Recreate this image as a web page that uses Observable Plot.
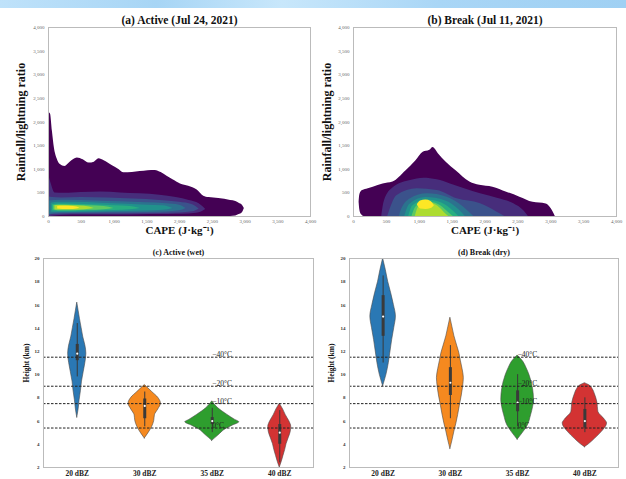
<!DOCTYPE html>
<html><head><meta charset="utf-8">
<script src="https://cdn.jsdelivr.net/npm/d3@7"></script>
<script src="https://cdn.jsdelivr.net/npm/@observablehq/plot@0.6"></script>
<style>
body{margin:0;background:#fff}
#wrap{position:relative;width:626px;height:479px;overflow:hidden;background:#fff;font-family:"Liberation Serif",serif}
#band{position:absolute;left:0;top:0;width:626px;height:8px;background:linear-gradient(90deg,#bfe2fa 0%,#a7d5f5 25%,#c8e7fb 45%,#a9d6f6 70%,#9fd0f3 100%)}
.panel{position:absolute}
.panel svg{overflow:visible}
.dbz [aria-label^="x-axis"] text{font-size:7.5px;font-weight:bold;fill:#222}
.dbz [aria-label^="y-axis"] text{font-size:5px;font-weight:bold;fill:#333}
.cape [aria-label^="x-axis"] text,.cape [aria-label^="y-axis"] text{font-size:5px;fill:#666}
</style></head>
<body>
<div id="wrap"><div id="band"></div></div>
<script>
// ---------- shared ticks / labels ----------
const capeTicks = [0, 500, 1000, 1500, 2000, 2500, 3000, 3500, 4000];
const ratioTicks = [0, 500, 1000, 1500, 2000, 2500, 3000, 3500, 4000];
const dbzCats = ["20 dBZ", "30 dBZ", "35 dBZ", "40 dBZ"];
const dbzColors = ["#2a78b4", "#f5891f", "#2e9e2e", "#d33333"];
const heightTicks = [2, 4, 6, 8, 10, 12, 14, 16, 18, 20];
const isoHeights = [11.5, 9, 7.5, 5.4];
const isoLabels = ["\u221240\u00b0C", "\u221220\u00b0C", "\u221210\u00b0C", "0\u00b0C"];

// ---------- (a) Active density contours: level x, lower, upper ----------
const activeX = [
  [0, 30, 60, 90, 130, 180, 250, 330, 440, 530, 620, 700, 770, 850, 970, 1080, 1150, 1280, 1400, 1520, 1630, 1720, 1810, 1900, 2015, 2140, 2270, 2370, 2450, 2600, 2780, 2860, 2910, 2960, 2990],
  [0, 40, 100, 250, 500, 800, 1100, 1400, 1700, 1950, 2150, 2300, 2400],
  [0, 60, 200, 500, 900, 1300, 1700, 2000, 2200, 2300],
  [10, 100, 300, 700, 1100, 1500, 1800, 2000, 2100],
  [40, 150, 400, 800, 1200, 1500, 1750, 1900],
  [60, 150, 400, 700, 1000, 1250, 1400],
  [80, 150, 350, 600, 850, 1000],
  [100, 170, 350, 550, 700],
  [140, 220, 380, 480]
];
const activeLo = [
  [0, 0, 0, 0, 0, 0, 0, 0, 0, 0, 0, 0, 0, 0, 0, 0, 0, 0, 0, 0, 0, 0, 0, 0, 0, 0, 0, 0, 0, 0, 0, 10, 40, 80, 170],
  [0, 0, 10, 25, 30, 30, 30, 35, 40, 45, 55, 80, 150],
  [10, 40, 50, 55, 55, 60, 65, 75, 100, 160],
  [40, 65, 70, 75, 80, 85, 95, 120, 170],
  [90, 85, 85, 95, 105, 115, 130, 170],
  [120, 105, 105, 115, 125, 145, 170],
  [135, 120, 120, 130, 145, 170],
  [145, 135, 135, 145, 170],
  [160, 150, 150, 175]
];
const activeHi = [
  [2200, 2170, 1800, 1450, 1230, 1100, 1060, 1150, 1240, 1200, 1130, 1150, 1220, 1180, 1080, 990, 925, 930, 950, 970, 975, 930, 850, 780, 690, 640, 560, 430, 400, 380, 340, 320, 280, 240, 170],
  [900, 700, 500, 490, 510, 520, 500, 480, 450, 400, 340, 270, 150],
  [420, 400, 390, 400, 390, 370, 340, 300, 250, 160],
  [330, 340, 345, 330, 310, 290, 270, 240, 170],
  [280, 300, 300, 280, 260, 240, 225, 170],
  [250, 265, 260, 245, 230, 210, 170],
  [235, 245, 240, 225, 210, 170],
  [225, 232, 230, 215, 170],
  [210, 215, 210, 175]
];

// ---------- (b) Break density contours ----------
const breakX = [
  [85, 95, 120, 160, 200, 300, 450, 600, 800, 950, 1060, 1160, 1210, 1290, 1410, 1560, 1770, 1920, 2120, 2330, 2530, 2730, 2930, 3010, 3050, 3070],
  [430, 470, 613, 867, 1069, 1273, 1475, 1700, 1932, 2200, 2438, 2590, 2660],
  [520, 664, 968, 1273, 1576, 1932, 2185, 2300],
  [700, 715, 867, 1120, 1424, 1677, 1830],
  [780, 850, 1100, 1400, 1600, 1700],
  [840, 900, 1100, 1350, 1520, 1600],
  [890, 950, 1100, 1300, 1450, 1520],
  [940, 990, 1120, 1280, 1400, 1450],
  [970, 1020, 1100, 1180, 1230]
];
const breakLo = [
  [300, 150, 40, 0, 0, 0, 0, 0, 0, 0, 0, 0, 0, 0, 0, 0, 0, 0, 0, 0, 0, 0, 0, 0, 0, 0],
  [0, 0, 0, 0, 0, 0, 0, 0, 0, 0, 0, 0, 0],
  [0, 0, 0, 0, 0, 0, 0, 0],
  [0, 0, 0, 0, 0, 0, 0],
  [0, 0, 0, 0, 0, 0],
  [0, 0, 0, 0, 0, 0],
  [0, 0, 0, 0, 0, 0],
  [0, 0, 0, 0, 0, 0],
  [250, 160, 150, 170, 230]
];
const breakHi = [
  [300, 450, 530, 560, 575, 620, 690, 730, 970, 1180, 1360, 1400, 1460, 1330, 1150, 970, 730, 660, 620, 515, 410, 300, 265, 160, 60, 0],
  [0, 330, 620, 762, 811, 776, 690, 580, 480, 380, 268, 120, 0],
  [0, 444, 585, 550, 374, 268, 91, 0],
  [0, 91, 374, 480, 409, 197, 0],
  [0, 250, 400, 330, 150, 0],
  [0, 220, 350, 280, 110, 0],
  [0, 200, 310, 250, 80, 0],
  [0, 200, 300, 220, 60, 0],
  [250, 330, 350, 320, 230]
];

// ---------- (c) Active (wet) violins: heights and half-widths ----------
const wetH = [
  [6.3, 7.0, 7.8, 8.6, 9.4, 10.2, 11.0, 11.8, 12.5, 13.2, 14.0, 14.8, 15.5, 16.2],
  [4.5, 5.0, 5.5, 6.0, 6.5, 7.0, 7.5, 8.0, 8.5, 9.1],
  [4.3, 4.75, 5.3, 5.6, 5.9, 6.1, 6.55, 7.1, 7.7],
  [2.0, 2.5, 3.0, 3.5, 4.0, 4.5, 5.0, 5.5, 6.0, 6.5, 7.0, 7.5]
];
const wetW = [
  [0, 0.02, 0.035, 0.055, 0.07, 0.095, 0.12, 0.135, 0.12, 0.09, 0.065, 0.04, 0.02, 0],
  [0, 0.06, 0.11, 0.14, 0.15, 0.2, 0.24, 0.2, 0.11, 0],
  [0, 0.09, 0.2, 0.3, 0.4, 0.34, 0.22, 0.09, 0],
  [0, 0.03, 0.055, 0.08, 0.1, 0.13, 0.16, 0.17, 0.14, 0.09, 0.05, 0]
];
const wetBox = { lo: [9.8, 5.5, 5.0, 2.4], q1: [11.2, 6.2, 5.7, 4.0], med: [11.8, 7.3, 6.0, 5.0], q3: [12.6, 7.9, 6.3, 5.7], hi: [14.4, 8.5, 7.1, 6.9] };

// ---------- (d) Break (dry) violins ----------
const dryH = [
  [9.0, 10.0, 11.0, 12.0, 13.0, 14.0, 15.0, 16.0, 17.0, 18.0, 19.0, 20.0],
  [3.6, 4.3, 5.1, 5.8, 6.5, 7.3, 8.2, 9.0, 9.7, 10.5, 11.2, 11.8, 12.5, 13.3, 14.1, 14.9],
  [4.4, 5.05, 5.6, 6.5, 7.2, 7.8, 8.75, 9.9, 10.6, 11.1, 11.65],
  [3.75, 4.0, 4.47, 5.05, 5.8, 6.1, 6.8, 7.6, 8.3, 8.75, 9.1, 9.26]
];
const dryW = [
  [0, 0.05, 0.085, 0.11, 0.135, 0.165, 0.19, 0.16, 0.12, 0.075, 0.04, 0],
  [0, 0.03, 0.06, 0.09, 0.115, 0.14, 0.17, 0.19, 0.2, 0.18, 0.155, 0.135, 0.1, 0.06, 0.03, 0],
  [0, 0.087, 0.15, 0.2, 0.23, 0.243, 0.23, 0.18, 0.13, 0.085, 0],
  [0, 0.06, 0.15, 0.25, 0.33, 0.3, 0.2, 0.186, 0.15, 0.116, 0.06, 0]
];
const dryBox = { lo: [11.0, 6.2, 5.5, 5.0], q1: [13.3, 8.2, 6.8, 5.4], med: [15.0, 9.3, 7.6, 6.0], q3: [16.8, 10.6, 8.6, 7.0], hi: [18.5, 12.5, 10.0, 8.0] };

// ---------- builders ----------
const font = "Liberation Serif, Times New Roman, serif";
const wrap = document.getElementById("wrap");
function place(svg, left, top) {
  const d = document.createElement("div");
  d.className = "panel";
  d.style.left = left + "px"; d.style.top = top + "px";
  d.appendChild(svg); wrap.appendChild(d);
}

function densityPanel(title, xs, los, his, opt) {
  const rows = xs.flatMap((xl, li) => xl.map((x, j) => ({level: li, x, lo: los[li][j], hi: his[li][j]})));
  return Plot.plot({
    className: "cape",
    width: opt.width, height: 240,
    marginLeft: opt.ml, marginRight: opt.mr, marginTop: 27, marginBottom: 24,
    style: {background: "transparent", fontFamily: font, overflow: "visible"},
    x: {domain: [0, 4000], ticks: capeTicks, tickFormat: d3.format(","), tickSize: 0, tickPadding: 3, label: null},
    y: {domain: [0, 4000], ticks: ratioTicks, tickFormat: d3.format(","), tickSize: 0, tickPadding: 4, label: null},
    color: {type: "linear", scheme: "viridis", domain: [0, 8]},
    marks: [
      Plot.areaY(rows, {x: "x", y1: "lo", y2: "hi", z: "level", fill: "level", curve: "monotone-x"}),
      Plot.frame({stroke: "#bbb"}),
      Plot.text([title], {frameAnchor: "top", lineAnchor: "middle", textAnchor: "middle", dy: -7, fontSize: 11.5, fontWeight: "bold", fill: "#111"}),
      Plot.text(["CAPE (J\u00b7kg\u207b\u00b9)"], {frameAnchor: "bottom", lineAnchor: "middle", textAnchor: "middle", dy: 14, fontSize: 11, fontWeight: "bold", fill: "#111"}),
      Plot.text(["Rainfall/lightning ratio"], {frameAnchor: "left", lineAnchor: "middle", textAnchor: "middle", dx: opt.ylx, rotate: -90, fontSize: 12, fontWeight: "bold", fill: "#111"})
    ]
  });
}

function violinPanel(title, H, W, box, opt) {
  const rows = dbzCats.flatMap((c, i) => H[i].map((h, j) => ({i: i + 1, cat: c, h, w: W[i][j]})));
  return Plot.plot({
    className: "dbz",
    width: opt.width, height: 239,
    marginLeft: opt.ml, marginRight: opt.mr, marginTop: 18, marginBottom: 12,
    style: {background: "transparent", fontFamily: font, overflow: "visible"},
    x: {domain: [0.5, 4.5], ticks: [1, 2, 3, 4], tickFormat: i => dbzCats[i - 1], tickSize: 0, tickPadding: 3, label: null},
    y: {domain: [2, 20], ticks: heightTicks, tickSize: 0, tickPadding: 4, label: null},
    color: {domain: dbzCats, range: dbzColors},
    marks: [
      Plot.areaX(rows, {y: "h", x1: d => d.i - d.w, x2: d => d.i + d.w, z: "cat", fill: "cat", stroke: "#4a4a4a", strokeWidth: 0.6, curve: "monotone-y"}),
      Plot.ruleX(dbzCats, {x: (d, i) => i + 1, y1: (d, i) => box.lo[i], y2: (d, i) => box.hi[i], stroke: "#3a3a3a", strokeWidth: 1}),
      Plot.ruleX(dbzCats, {x: (d, i) => i + 1, y1: (d, i) => box.q1[i], y2: (d, i) => box.q3[i], stroke: "#3a3a3a", strokeWidth: 3}),
      Plot.dot(dbzCats, {x: (d, i) => i + 1, y: (d, i) => box.med[i], r: 1.1, fill: "white"}),
      Plot.ruleY(isoHeights, {stroke: "#222", strokeWidth: 1, strokeDasharray: "2.5,1.5"}),
      Plot.text(isoHeights, {x: 3.0, y: d => d, text: (d, i) => isoLabels[i], textAnchor: "start", lineAnchor: "bottom", dy: 0, fontSize: 7.5, fill: "#222"}),
      Plot.frame({stroke: "#bbb"}),
      Plot.text([title], {frameAnchor: "top", lineAnchor: "middle", textAnchor: "middle", dy: -6, fontSize: 8, fontWeight: "bold", fill: "#111"}),
      Plot.text(["Height (km)"], {frameAnchor: "left", lineAnchor: "middle", textAnchor: "middle", dx: opt.ylx, rotate: -90, fontSize: 7.5, fontWeight: "bold", fill: "#111"})
    ]
  });
}

place(densityPanel("(a) Active (Jul 24, 2021)", activeX, activeLo, activeHi, {width: 313, ml: 48, mr: 3, ylx: -27}), 0, 0);
place(densityPanel("(b) Break (Jul 11, 2021)", breakX, breakLo, breakHi, {width: 313, ml: 40, mr: 10, ylx: -26}), 313, 0);
place(violinPanel("(c) Active (wet)", wetH, wetW, wetBox, {width: 316, ml: 43, mr: 3, ylx: -16.5}), 0, 240);
place(violinPanel("(d) Break (dry)", dryH, dryW, dryBox, {width: 310, ml: 33, mr: 8, ylx: -18}), 316, 240);
</script>
</body></html>
